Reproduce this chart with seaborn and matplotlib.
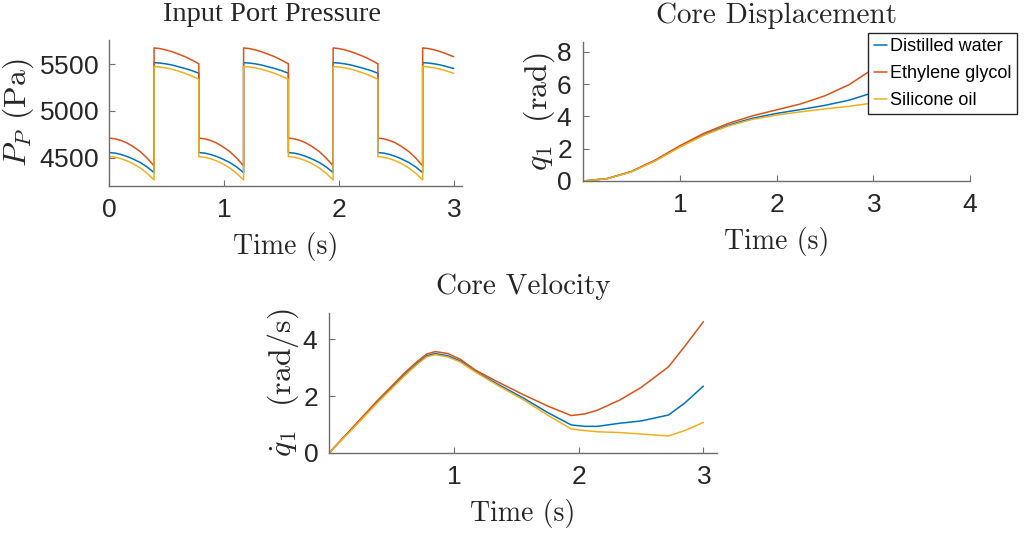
import numpy as np
import pandas as pd
import matplotlib
matplotlib.use("Agg")
import matplotlib.pyplot as plt
import seaborn as sns

# ---------------- data ----------------
fluids = ["Distilled water", "Ethylene glycol", "Silicone oil"]
colors = ["#0072BD", "#D95319", "#EDB120"]

# Input port pressure: square-wave switching times and per-half-cycle profiles
switch_times = [0.0, 0.39, 0.78, 1.17, 1.56, 1.95, 2.34, 2.73]
t_end = 3.0
profile_offsets = [0.0, 0.05, 0.10, 0.15, 0.20, 0.27, 0.33, 0.39]
low_water = [4555, 4549, 4535, 4515, 4490, 4448, 4400, 4340]
low_glycol = [4710, 4702, 4685, 4660, 4625, 4565, 4495, 4412]
low_silicone = [4512, 4505, 4490, 4468, 4440, 4390, 4332, 4262]
high_water = [5518, 5513, 5505, 5494, 5478, 5455, 5432, 5404]
high_glycol = [5675, 5668, 5655, 5637, 5615, 5581, 5545, 5505]
high_silicone = [5477, 5471, 5462, 5449, 5432, 5403, 5374, 5339]

# Core displacement
t_disp = [0.0, 0.25, 0.5, 0.75, 1.0, 1.25, 1.5, 1.75, 2.0, 2.25, 2.5, 2.75, 3.0]
q_water = [0, 0.145, 0.575, 1.27, 2.12, 2.87, 3.45, 3.88, 4.18, 4.42, 4.68, 5.00, 5.47]
q_glycol = [0, 0.15, 0.59, 1.31, 2.18, 2.95, 3.56, 4.03, 4.40, 4.77, 5.27, 5.96, 6.94]
q_silicone = [0, 0.14, 0.56, 1.25, 2.09, 2.83, 3.40, 3.81, 4.08, 4.28, 4.46, 4.62, 4.83]

# Core velocity
t_vel = [0, 0.2, 0.39, 0.5, 0.6, 0.7, 0.78, 0.85, 0.95, 1.05, 1.17, 1.35, 1.56,
         1.75, 1.94, 2.05, 2.15, 2.33, 2.5, 2.72, 2.85, 3.0]
v_water = [0, 0.93, 1.82, 2.30, 2.74, 3.14, 3.42, 3.50, 3.42, 3.24, 2.88, 2.42, 1.92,
           1.42, 0.98, 0.93, 0.93, 1.04, 1.12, 1.33, 1.75, 2.35]
v_glycol = [0, 0.95, 1.86, 2.35, 2.80, 3.20, 3.48, 3.57, 3.50, 3.30, 2.92, 2.50, 2.04,
            1.65, 1.31, 1.37, 1.50, 1.86, 2.30, 3.03, 3.75, 4.62]
v_silicone = [0, 0.90, 1.78, 2.26, 2.70, 3.10, 3.38, 3.46, 3.38, 3.20, 2.85, 2.38, 1.86,
              1.33, 0.84, 0.78, 0.74, 0.71, 0.66, 0.59, 0.78, 1.07]

# ---------------- build long-form tables ----------------
lows = dict(zip(fluids, [low_water, low_glycol, low_silicone]))
highs = dict(zip(fluids, [high_water, high_glycol, high_silicone]))
rows = []
for f in fluids:
    edges = switch_times + [t_end]
    for k in range(len(switch_times)):
        prof = lows[f] if k % 2 == 0 else highs[f]
        for off, val in zip(profile_offsets, prof):
            t = edges[k] + off
            if t <= edges[k + 1] + 1e-9:
                rows.append((f, t, val))
pres_df = pd.DataFrame(rows, columns=["fluid", "t", "P"])

disp_df = pd.concat([pd.DataFrame({"fluid": f, "t": t_disp, "q": q})
                     for f, q in zip(fluids, [q_water, q_glycol, q_silicone])])
vel_df = pd.concat([pd.DataFrame({"fluid": f, "t": t_vel, "v": v})
                    for f, v in zip(fluids, [v_water, v_glycol, v_silicone])])

# ---------------- style ----------------
sns.set_style("ticks")
plt.rcParams["font.family"] = ["Liberation Sans", "DejaVu Sans"]
plt.rcParams["mathtext.fontset"] = "cm"
plt.rcParams["axes.formatter.use_mathtext"] = True
plt.rcParams["xtick.direction"] = "in"
plt.rcParams["ytick.direction"] = "in"

palette = dict(zip(fluids, colors))
W, H = 1024, 538
fig = plt.figure(figsize=(W / 100, H / 100), dpi=100)


def px_axes(x0, y0, x1, y1):
    return fig.add_axes([x0 / W, 1 - y1 / H, (x1 - x0) / W, (y1 - y0) / H])


ax1 = px_axes(109.3, 40, 461.7, 185.7)
ax2 = px_axes(583, 42, 970, 181)
ax3 = px_axes(329.3, 313.3, 716.7, 452.7)

lw = 1.1
sns.lineplot(data=pres_df, x="t", y="P", hue="fluid", hue_order=fluids, palette=palette,
             estimator=None, sort=False, units="fluid", linewidth=lw, ax=ax1, legend=False)
sns.lineplot(data=disp_df, x="t", y="q", hue="fluid", hue_order=fluids, palette=palette,
             estimator=None, sort=False, linewidth=lw, ax=ax2, legend=True)
sns.lineplot(data=vel_df, x="t", y="v", hue="fluid", hue_order=fluids, palette=palette,
             estimator=None, sort=False, linewidth=lw, ax=ax3, legend=False)

serif = "cmr10"
title_fs = 21
label_fs = 20
ylabel_fs = 23
tick_fs = 19
tick_col = "#262626"
spine_col = "#6e6e6e"
txt_col = "#262626"

for ax in (ax1, ax2, ax3):
    sns.despine(ax=ax)
    for s in ("left", "bottom"):
        ax.spines[s].set_color(spine_col)
        ax.spines[s].set_linewidth(1.0)
    ax.tick_params(axis="both", direction="in", length=4, width=0.8, color=spine_col,
                   labelsize=tick_fs, labelcolor=tick_col, pad=8)
    ax.tick_params(axis="x", pad=9)
    ax.set_xlabel("Time (s)", fontfamily=serif, fontsize=label_fs, color=txt_col, labelpad=7)

ax1.set_xlim(0, 3.07)
ax1.set_ylim(4200, 5760)
ax1.set_xticks([0, 1, 2, 3])
ax1.set_yticks([4500, 5000, 5500])
ax1.set_title("Input Port Pressure", fontfamily="Liberation Serif", fontsize=20.5,
              color=txt_col, pad=14, x=0.462)
ax1.set_ylabel(r"$P_P$ (Pa)", fontfamily=serif, fontsize=ylabel_fs, color=txt_col, labelpad=2)

ax2.set_xlim(0, 4)
ax2.set_ylim(0, 8.6)
ax2.set_xticks([1, 2, 3, 4])
ax2.set_yticks([0, 2, 4, 6, 8])
ax2.set_title("Core Displacement", fontfamily=serif, fontsize=title_fs, color=txt_col, pad=14)
ax2.set_ylabel(r"$q_1$  (rad)", fontfamily=serif, fontsize=ylabel_fs, color=txt_col, labelpad=-1)

ax3.set_xlim(0, 3.107)
ax3.set_ylim(0, 4.92)
ax3.set_xticks([1, 2, 3])
ax3.set_yticks([0, 2, 4])
ax3.set_title("Core Velocity", fontfamily=serif, fontsize=title_fs, color=txt_col, pad=14)
ax3.set_ylabel(r"$\dot{q}_1$  (rad/s)", fontfamily=serif, fontsize=ylabel_fs, color=txt_col, labelpad=1)

leg = ax2.legend(loc="upper right", bbox_to_anchor=(1017 / W, 1 - 32.7 / H),
                 bbox_transform=fig.transFigure, borderaxespad=0, fontsize=13,
                 frameon=True, fancybox=False, framealpha=1, edgecolor="#262626",
                 handlelength=0.75, handletextpad=0.15, labelspacing=0.55,
                 borderpad=0.3, title=None)
leg.get_frame().set_linewidth(1.0)
for t in leg.get_texts():
    t.set_color("black")

fig.savefig("out.png", dpi=100)
